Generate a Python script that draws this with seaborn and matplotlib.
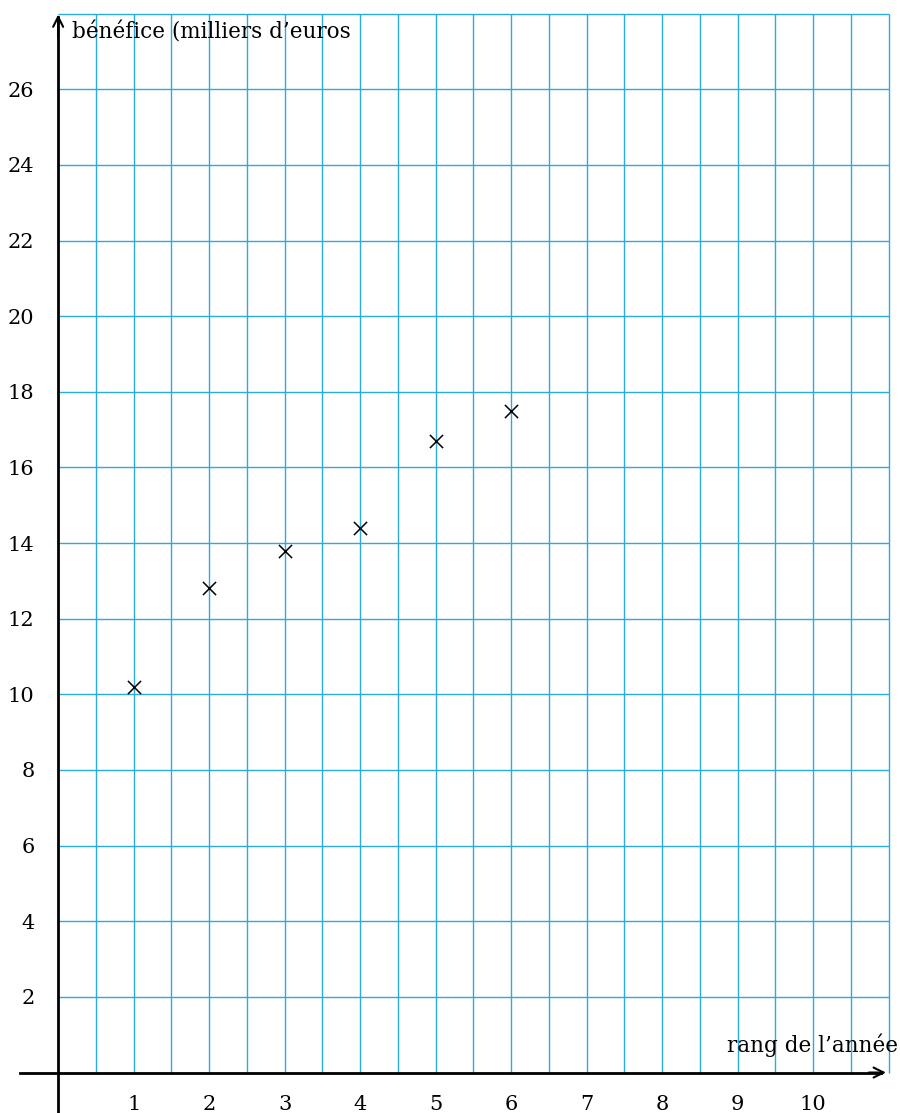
import numpy as np
import matplotlib
matplotlib.use("Agg")
import matplotlib.pyplot as plt
import seaborn as sns

# data
rang = [1, 2, 3, 4, 5, 6]
benefice = [10.2, 12.8, 13.8, 14.4, 16.7, 17.5]
x_ticks = [1, 2, 3, 4, 5, 6, 7, 8, 9, 10]
y_ticks = [2, 4, 6, 8, 10, 12, 14, 16, 18, 20, 22, 24, 26]
x_label = "rang de l\u2019année"
y_label = "bénéfice (milliers d\u2019euros"

sns.set_style("white")
plt.rcParams['font.family'] = ['DejaVu Serif', 'Liberation Serif']
plt.rcParams['text.color'] = 'black'

fig = plt.figure(figsize=(9, 11.13), dpi=100)
ax = fig.add_axes([0, 0, 1, 1])
ax.set_xlim(-0.77, 11.15)
ax.set_ylim(-1.07, 28.36)

# grid only inside the first quadrant
grid_col = "#29abe2"
ax.vlines(np.arange(0.5, 11.01, 0.5), 0, 28, color=grid_col, lw=1.0, zorder=1)
ax.hlines(np.arange(2, 28.01, 2), 0, 11, color=grid_col, lw=1.0, zorder=1)

# axes through the origin
ax.spines['left'].set_position(('data', 0))
ax.spines['bottom'].set_position(('data', 0))
ax.spines['right'].set_visible(False)
ax.spines['top'].set_visible(False)
for s in ['left', 'bottom']:
    ax.spines[s].set_color('black')
    ax.spines[s].set_linewidth(2)
    ax.spines[s].set_zorder(3)
ax.spines['left'].set_bounds(-1.07, 27.9)
ax.spines['bottom'].set_bounds(-0.5, 10.9)
ax.annotate('', xy=(11, 0), xytext=(10.7, 0),
            arrowprops=dict(arrowstyle='->', lw=1.5, color='black',
                            mutation_scale=18), zorder=4)
ax.annotate('', xy=(0, 28.05), xytext=(0, 27.3),
            arrowprops=dict(arrowstyle='->', lw=1.5, color='black',
                            mutation_scale=18), zorder=4)

ax.set_xticks(x_ticks)
ax.set_yticks(y_ticks)
ax.set_xticklabels([str(v) for v in x_ticks])
ax.set_yticklabels([str(v) for v in y_ticks])
ax.tick_params(axis='both', direction='out', length=7, width=1,
               color='#333333', labelsize=15, labelcolor='black')
ax.tick_params(axis='x', pad=9)
ax.tick_params(axis='y', pad=10)

sns.scatterplot(x=rang, y=benefice, marker='x', color='black', s=90,
                linewidth=1.1, ax=ax, zorder=5)

ax.text(0.18, 27.5, y_label, fontsize=15.5, va='center', ha='left',
        color='black')
ax.text(11.13, 0.73, x_label, fontsize=15.5, va='center', ha='right',
        color='black')
ax.set_xlabel('')
ax.set_ylabel('')

fig.savefig("out.png", dpi=100)
